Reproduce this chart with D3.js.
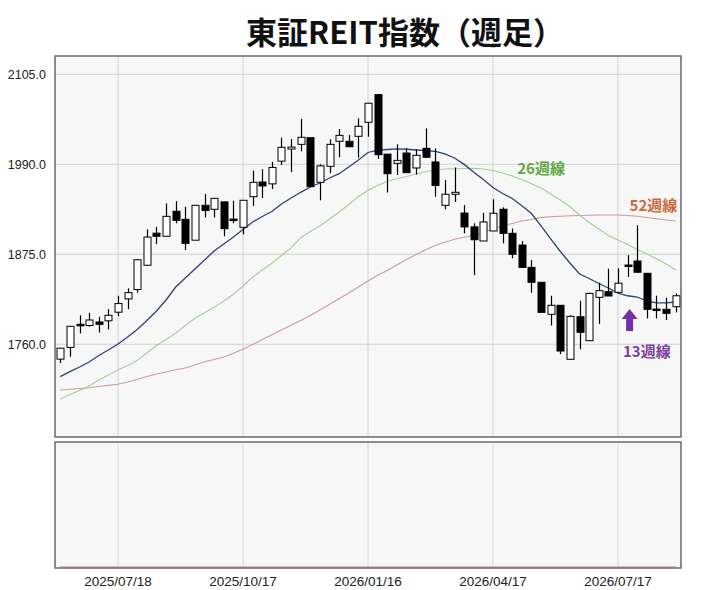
<!DOCTYPE html>
<html>
<head>
<meta charset="utf-8">
<script src="https://cdn.jsdelivr.net/npm/d3@7"></script>
<style>
  body { margin: 0; background: #fff; }
  svg { display: block; }
</style>
</head>
<body>
<svg id="chart"></svg>
<script>
// weekly dates (Friday)
const dates = [
  "2025/06/06","2025/06/13","2025/06/20","2025/06/27","2025/07/04","2025/07/11","2025/07/18","2025/07/25",
  "2025/08/01","2025/08/08","2025/08/15","2025/08/22","2025/08/29","2025/09/05","2025/09/12","2025/09/19",
  "2025/09/26","2025/10/03","2025/10/10","2025/10/17","2025/10/24","2025/10/31","2025/11/07","2025/11/14",
  "2025/11/21","2025/11/28","2025/12/05","2025/12/12","2025/12/19","2025/12/26","2026/01/02","2026/01/09",
  "2026/01/16","2026/01/23","2026/01/30","2026/02/06","2026/02/13","2026/02/20","2026/02/27","2026/03/06",
  "2026/03/13","2026/03/20","2026/03/27","2026/04/03","2026/04/10","2026/04/17","2026/04/24","2026/05/01",
  "2026/05/08","2026/05/15","2026/05/22","2026/05/29","2026/06/05","2026/06/12","2026/06/19","2026/06/26",
  "2026/07/03","2026/07/10","2026/07/17","2026/07/24","2026/07/31","2026/08/07","2026/08/14","2026/08/21",
  "2026/08/28"
]

const open = [1741,1756,1785.5,1784,1788.5,1790,1801,1818,1830,1861,1902,1898,1930,1919.7,1893,1937.6,
  1932.5,1942,1920,1909.5,1948.6,1967.4,1965,1994,2009.5,2015.5,2024,1967,1987.4,2019.4,2019.4,2025.8,
  2043.7,2079,2003,1991.3,2004.4,1985.3,2010.4,1993,1937.6,1951.7,1927.7,1910,1892,1904.8,1932.5,1901.8,
  1886.8,1858.3,1839.2,1798.3,1809.8,1740.8,1795.2,1764.6,1820,1827.2,1826.4,1861.3,1866.4,1850.7,1805,
  1804.7,1808]
const high = [1755,1783,1797,1800,1795,1805,1822,1831.5,1869,1907,1910,1940,1943,1935.8,1938,1952,
  1947,1942,1943.5,1944,1982,1983.6,1993,2024,2022.3,2048,2024,1990,2022,2035,2027.4,2048.8,
  2068.5,2080,2003,2015.5,2011,2009,2036,2010.4,1970,1986,1938,1914.6,1928,1945.3,1935,1908,
  1892,1867.7,1839.2,1822,1810,1797,1815.7,1826,1838.7,1856.6,1857,1874,1912,1851,1822,
  1819.5,1825]
const low = [1736,1744,1774,1782.5,1775,1779,1796,1805,1826,1860,1888,1898,1914.6,1880.5,1893,1922,
  1922,1898,1914.6,1900.5,1936.7,1947,1958.4,1989,1980,2006.6,1961.4,1944,1978.5,1999,2012,1998.4,
  2025.3,1997,1954,1976.3,1979,1976.7,1998,1948.6,1932.5,1942,1901.8,1848.5,1892,1904.8,1889,1870,
  1858,1826,1800.8,1784,1747.5,1740.8,1753.7,1764,1786,1821.7,1826,1846,1852,1793,1793,
  1791,1800.8]
const close = [1755,1783,1785.5,1791,1785.5,1797,1812,1826,1868,1897,1898,1923.5,1918.4,1889,1937.6,1931,
  1946.5,1907.7,1920,1944,1967,1962.3,1986,2011.7,2012,2024.5,1961.4,1988,2015.5,2027,2012.5,2038.6,
  2068,2002.3,1978,1995,1979.3,2001.5,1999,1963,1951.7,1954.2,1910,1893.6,1916.3,1927.4,1901.8,1875,
  1858.3,1839.2,1800.8,1809.8,1751.4,1795.7,1775.3,1825,1828.5,1821.7,1838,1861.3,1852,1804.7,1805,
  1799.6,1822]

// moving averages
const ma13 = [1718.6,1725.0,1731.0,1737.4,1745.7,1752.7,1760.4,1769.3,1778.9,1790.4,1802.5,1816.6,1833.2,
  1844.7,1856.2,1867.7,1879.2,1888.2,1897.1,1906.7,1916.3,1923.3,1929.7,1939.3,1946.9,1954.2,1961.0,
  1966.1,1972.5,1978.0,1986.6,1995.5,2005.1,2008.0,2008.9,2009.6,2009.2,2008.3,2007.5,2006.5,2003.2,
  1998.1,1989.9,1979.8,1970.7,1960.4,1952.7,1946.3,1937.0,1927.1,1911.2,1894.6,1878.6,1863.9,1849.8,
  1844.1,1837.7,1831.9,1825.5,1822.0,1820.4,1815.3,1812.8,1812.8,1814.0]
const ma26 = [1690.1,1695.9,1701.0,1706.7,1714.4,1720.8,1727.2,1732.9,1739.3,1748.9,1758.5,1766.1,1774.4,
  1784.0,1793.2,1800.2,1807.4,1815.3,1823.9,1834.5,1846.0,1854.9,1863.5,1873.5,1883.1,1896.2,1904.1,
  1911.2,1920.1,1929.1,1938.6,1948.6,1956.8,1962.9,1968.4,1971.6,1974.5,1977.6,1980.7,1982.3,1984.0,
  1984.4,1984.6,1984.9,1984.0,1982.1,1978.9,1975.1,1970.6,1965.1,1959.7,1952.1,1944.4,1935.8,1925.2,
  1915.6,1907.3,1899.0,1893.3,1887.5,1881.1,1875.4,1869.3,1862.6,1854.9]
const ma52 = [1701.6,1702.5,1703.5,1704.5,1706.1,1707.5,1708.9,1711.8,1715.1,1718.9,1722.0,1724.6,1727.4,
  1729.7,1733.5,1737.6,1740.6,1743.8,1748.6,1753.7,1759.7,1765.9,1772.1,1778.3,1784.3,1790.4,1796.8,
  1803.8,1811.1,1818.3,1825.5,1833.2,1840.9,1848.2,1854.3,1861.3,1868.4,1874.7,1880.9,1886.2,1890.3,
  1894.3,1896.7,1899.3,1902.9,1907.7,1911.2,1914.4,1917.6,1919.5,1922.2,1922.9,1923.7,1924.2,1924.6,
  1924.8,1925.2,1925.2,1925.2,1924.6,1923.6,1922.0,1920.4,1918.8,1917.6]

const xTickLabels = ["2025/07/18","2025/10/17","2026/01/16","2026/04/17","2026/07/17"]
const yTicks = [1760, 1875, 1990, 2105]

const canvas_width = 706
const canvas_height = 590
const left = 55, right = 681
const mainTop = 56, mainBottom = 437
const subTop = 442, subBottom = 568

const parse = d3.timeParse("%Y/%m/%d")
const days = 24 * 3600 * 1000

var data = dates.map((d, i) => ({
  date: parse(d), o: open[i], h: high[i], l: low[i], c: close[i],
  m13: ma13[i], m26: ma26[i], m52: ma52[i]
}))

var svg = d3.select("#chart")
  .attr("width", canvas_width)
  .attr("height", canvas_height)
  .style("font-family", "'Liberation Sans', Arial, sans-serif")

var x = d3.scaleTime()
  .domain([new Date(data[0].date - 3.86 * days), new Date(+data[data.length - 1].date + 3.86 * days)])
  .range([left, right])

var y = d3.scaleLinear()
  .domain([1641.5, 2128.4])
  .range([mainBottom, mainTop])

var ySub = d3.scaleLinear()
  .domain([0, 1])
  .range([subBottom - 1, subTop])

// panel backgrounds
svg.append("rect")
  .attr("x", left).attr("y", mainTop)
  .attr("width", right - left).attr("height", mainBottom - mainTop)
  .attr("fill", "#f7f7f7")
svg.append("rect")
  .attr("x", left).attr("y", subTop)
  .attr("width", right - left).attr("height", subBottom - subTop)
  .attr("fill", "#f7f7f7")

// vertical grid lines on both panels
var tickDates = xTickLabels.map(parse)
svg.append("g")
  .selectAll("line")
  .data(tickDates)
  .enter()
  .append("line")
  .attr("x1", d => x(d)).attr("x2", d => x(d))
  .attr("y1", mainTop).attr("y2", mainBottom)
  .attr("stroke", "#d2d2d2")
svg.append("g")
  .selectAll("line")
  .data(tickDates)
  .enter()
  .append("line")
  .attr("x1", d => x(d)).attr("x2", d => x(d))
  .attr("y1", subTop).attr("y2", subBottom)
  .attr("stroke", "#d8d8d8")

// horizontal grid lines + y labels
svg.append("g")
  .selectAll("line")
  .data(yTicks)
  .enter()
  .append("line")
  .attr("x1", left).attr("x2", right)
  .attr("y1", d => y(d)).attr("y2", d => y(d))
  .attr("stroke", "#d2d2d2")

svg.append("g")
  .selectAll("text")
  .data(yTicks)
  .enter()
  .append("text")
  .attr("x", 46)
  .attr("y", d => y(d) + 4.5)
  .attr("text-anchor", "end")
  .attr("font-size", "12.5px")
  .attr("fill", "#222")
  .text(d => d3.format(".1f")(d))

// x labels
svg.append("g")
  .selectAll("text")
  .data(tickDates)
  .enter()
  .append("text")
  .attr("x", d => x(d))
  .attr("y", 586)
  .attr("text-anchor", "middle")
  .attr("font-size", "13.5px")
  .attr("fill", "#222")
  .text(d => d3.timeFormat("%Y/%m/%d")(d))

// moving average lines
function maLine(key) {
  return d3.line().x(d => x(d.date)).y(d => y(d[key]))
}
svg.append("path").datum(data)
  .attr("d", maLine("m52"))
  .attr("fill", "none").attr("stroke", "#cf9c9c").attr("stroke-width", 1.1)
svg.append("path").datum(data)
  .attr("d", maLine("m26"))
  .attr("fill", "none").attr("stroke", "#a6cf98").attr("stroke-width", 1.1)
svg.append("path").datum(data)
  .attr("d", maLine("m13"))
  .attr("fill", "none").attr("stroke", "#2d4275").attr("stroke-width", 1.3)

// candles
var candles = svg.append("g")
  .selectAll("g")
  .data(data)
  .enter()
  .append("g")

candles.append("line") // wick
  .attr("x1", d => Math.round(x(d.date)) + 0.5)
  .attr("x2", d => Math.round(x(d.date)) + 0.5)
  .attr("y1", d => y(d.h))
  .attr("y2", d => y(d.l))
  .attr("stroke", "#000")
  .attr("stroke-width", 1.2)

candles.append("rect") // body
  .attr("x", d => Math.round(x(d.date)) - 3)
  .attr("y", d => y(Math.max(d.o, d.c)))
  .attr("width", 7)
  .attr("height", d => Math.max(1.5, Math.abs(y(d.o) - y(d.c))))
  .attr("fill", d => d.c > d.o ? "#fff" : "#000")
  .attr("stroke", "#000")
  .attr("stroke-width", 1)

// empty line at the bottom of the lower panel
svg.append("line")
  .attr("x1", x(data[0].date)).attr("x2", x(data[data.length - 1].date))
  .attr("y1", ySub(0)).attr("y2", ySub(0))
  .attr("stroke", "#c8827a").attr("stroke-width", 1.2)

// panel borders
svg.append("rect")
  .attr("x", left).attr("y", mainTop)
  .attr("width", right - left).attr("height", mainBottom - mainTop)
  .attr("fill", "none").attr("stroke", "#6a6a6a").attr("stroke-width", 1.5)
svg.append("rect")
  .attr("x", left).attr("y", subTop)
  .attr("width", right - left).attr("height", subBottom - subTop)
  .attr("fill", "none").attr("stroke", "#6a6a6a").attr("stroke-width", 1.5)

// title
svg.append("text")
  .attr("x", 405)
  .attr("y", 44)
  .attr("text-anchor", "middle")
  .attr("font-family", "'Noto Sans CJK JP', sans-serif")
  .attr("font-weight", "bold")
  .attr("font-size", "31px")
  .attr("fill", "#111")
  .text("東証REIT指数（週足）")

// MA labels
var cjk = "'Noto Sans CJK JP', sans-serif"
svg.append("text")
  .attr("x", x(data[50].date)).attr("y", 174)
  .attr("text-anchor", "middle")
  .attr("font-family", cjk).attr("font-weight", "bold").attr("font-size", "15px")
  .attr("fill", "#62a843")
  .text("26週線")
svg.append("text")
  .attr("x", x(data[62].date) - 3).attr("y", 211)
  .attr("text-anchor", "middle")
  .attr("font-family", cjk).attr("font-weight", "bold").attr("font-size", "15px")
  .attr("fill", "#c96a3e")
  .text("52週線")
svg.append("text")
  .attr("x", x(data[61].date)).attr("y", 357)
  .attr("text-anchor", "middle")
  .attr("font-family", cjk).attr("font-weight", "bold").attr("font-size", "15px")
  .attr("fill", "#7a3fa2")
  .text("13週線")

// arrow pointing up at the 13-week line
var ax = x(data[59].date) + 2
svg.append("path")
  .attr("d", d3.line()([[ax, 309], [ax + 8, 319], [ax + 3.5, 319], [ax + 3.5, 331],
    [ax - 3.5, 331], [ax - 3.5, 319], [ax - 8, 319]]) + "Z")
  .attr("fill", "#7232a4")
</script>
</body>
</html>
